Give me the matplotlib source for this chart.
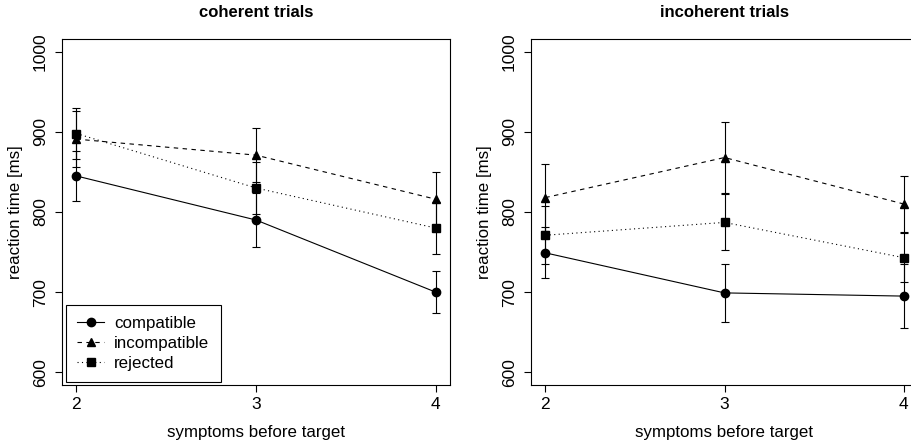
import matplotlib.pyplot as plt
import numpy as np

plt.rcParams['font.family'] = ['Liberation Sans', 'DejaVu Sans']

# symptoms before target
symptoms = [2, 3, 4]
conditions = ["compatible", "incompatible", "rejected"]

# coherent trials: mean reaction time and error bar half-width [ms]
coh_compatible = [845, 790, 700]
coh_compatible_err = [31, 34, 26]
coh_incompatible = [891, 871, 816]
coh_incompatible_err = [35, 34, 34]
coh_rejected = [898, 830, 780]
coh_rejected_err = [32, 33, 33]

# incoherent trials
inc_compatible = [749, 699, 695]
inc_compatible_err = [32, 36, 40]
inc_incompatible = [818, 868, 810]
inc_incompatible_err = [42, 44, 35]
inc_rejected = [771, 787, 743]
inc_rejected_err = [36, 35, 31]

styles = {
    "compatible": dict(marker="o", linestyle="-"),
    "incompatible": dict(marker="^", linestyle=(0, (4, 4))),
    "rejected": dict(marker="s", linestyle=(0, (1, 3))),
}

fig = plt.figure(figsize=(9.12, 4.46), dpi=100)
ax1 = fig.add_axes([62 / 912, 61 / 446, 388 / 912, 346 / 446])
ax2 = fig.add_axes([531 / 912, 61 / 446, 387 / 912, 346 / 446])

panels = [
    (ax1, "coherent trials",
     [coh_compatible, coh_incompatible, coh_rejected],
     [coh_compatible_err, coh_incompatible_err, coh_rejected_err]),
    (ax2, "incoherent trials",
     [inc_compatible, inc_incompatible, inc_rejected],
     [inc_compatible_err, inc_incompatible_err, inc_rejected_err]),
]

for ax, title, means, errs in panels:
    for name, m, e in zip(conditions, means, errs):
        st = styles[name]
        ax.plot(symptoms, m, color="black", lw=0.8, linestyle=st["linestyle"],
                marker=st["marker"], markersize=6, label=name, zorder=3)
        ax.errorbar(symptoms, m, yerr=e, fmt="none", ecolor="black",
                    elinewidth=0.8, capsize=2.8, capthick=0.8, zorder=2)
    ax.set_xlim(1.92, 4.08)
    ax.set_ylim(584, 1016)
    ax.set_xticks(symptoms)
    ax.set_yticks([600, 700, 800, 900, 1000])
    ax.tick_params(axis="both", direction="out", length=5, width=0.8,
                   labelsize=12.5, colors="black")
    ax.tick_params(axis="y", pad=5)
    ax.tick_params(axis="x", pad=3.5)
    for lab in ax.get_yticklabels():
        lab.set_rotation(90)
        lab.set_va("center")
    for sp in ax.spines.values():
        sp.set_linewidth(0.8)
    ax.set_title(title, fontsize=12, fontweight="bold", pad=16)
    ax.set_xlabel("symptoms before target", fontsize=12.2, labelpad=9.5)
    ax.set_ylabel("reaction time [ms]", fontsize=12.2, labelpad=7)

leg = ax1.legend(loc="lower left", bbox_to_anchor=(4 / 388, 3 / 346),
                 borderaxespad=0, fontsize=12.2, fancybox=False,
                 edgecolor="black", framealpha=1, handlelength=1.6,
                 handletextpad=0.6, labelspacing=0.3, borderpad=0.65)
leg.get_frame().set_linewidth(0.8)

fig.savefig("out.png", dpi=100)
